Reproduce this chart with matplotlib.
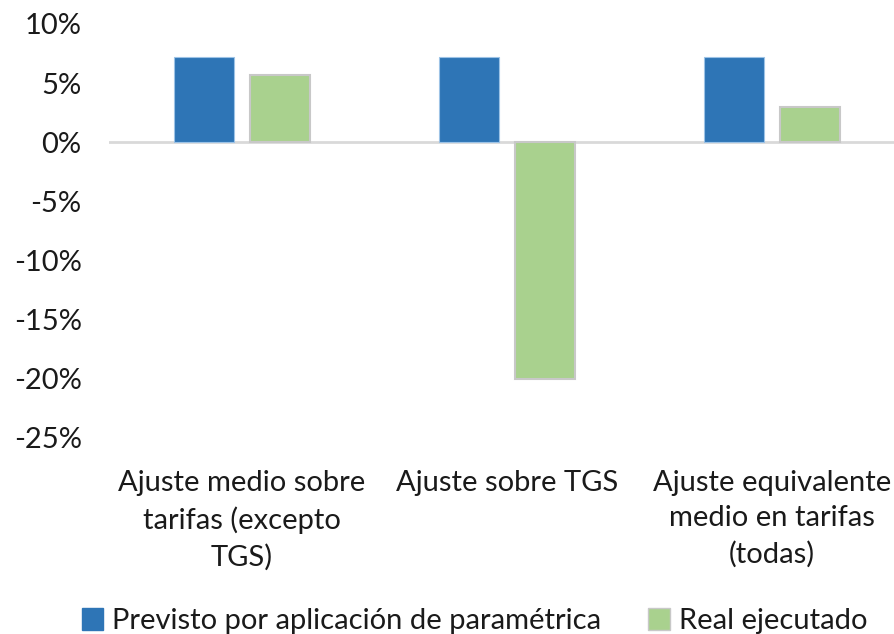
import matplotlib.pyplot as plt
import numpy as np
from matplotlib.patches import Patch
from matplotlib.ticker import FuncFormatter

# ====================== DATA ======================
categories = [
    "Ajuste medio sobre\ntarifas (excepto\nTGS)",
    "Ajuste sobre TGS",
    "Ajuste equivalente\nmedio en tarifas\n(todas)",
]
previsto = [7.2, 7.2, 7.2]
real = [5.7, -20.0, 3.0]
series_names = ["Previsto por aplicación de paramétrica", "Real ejecutado"]

# ====================== STYLE ======================
blue = "#2E75B6"
green = "#A9D18E"
txt = "#1a1a1a"
plt.rcParams['font.family'] = ['Lato', 'DejaVu Sans']
fs = 21

fig = plt.figure(figsize=(8.95, 6.34), dpi=100)
# axes spans x 109.5..904.5 px, y 24..438 px
ax = fig.add_axes([109.5 / 895, 1 - 438 / 634, 795 / 895, 414 / 634])

x = np.arange(len(categories))
w = 0.225
off = 0.1425
ax.bar(x - off, previsto, w, color=blue, edgecolor="#9DC3E6", linewidth=0.8, zorder=2)
ax.bar(x + off, real, w, color=green, edgecolor="#C8C8C8", linewidth=1.5, zorder=2)

ax.axhline(0, color="#D9D9D9", linewidth=2, zorder=1)

ax.set_xlim(-0.5, 2.5)
ax.set_ylim(-25, 10)
ax.set_yticks(np.arange(-25, 11, 5))
ax.yaxis.set_major_formatter(FuncFormatter(lambda v, p: f"{v:.0f}%"))
ax.set_xticks(x)
ax.set_xticklabels(categories, linespacing=1.45, va="top")

ax.tick_params(axis="both", length=0, labelsize=fs, colors=txt)
ax.tick_params(axis="x", pad=23)
ax.tick_params(axis="y", pad=20)
for s in ax.spines.values():
    s.set_visible(False)

handles = [Patch(facecolor=blue, edgecolor=blue), Patch(facecolor=green, edgecolor="#C8C8C8")]
fig.legend(handles, series_names, loc="center", bbox_to_anchor=(0.53, 1 - 621 / 634),
           ncol=2, frameon=False, fontsize=fs, handlelength=0.75, handleheight=0.75,
           handletextpad=0.3, columnspacing=1.6, labelcolor=txt)

fig.savefig("out.png", dpi=100)
